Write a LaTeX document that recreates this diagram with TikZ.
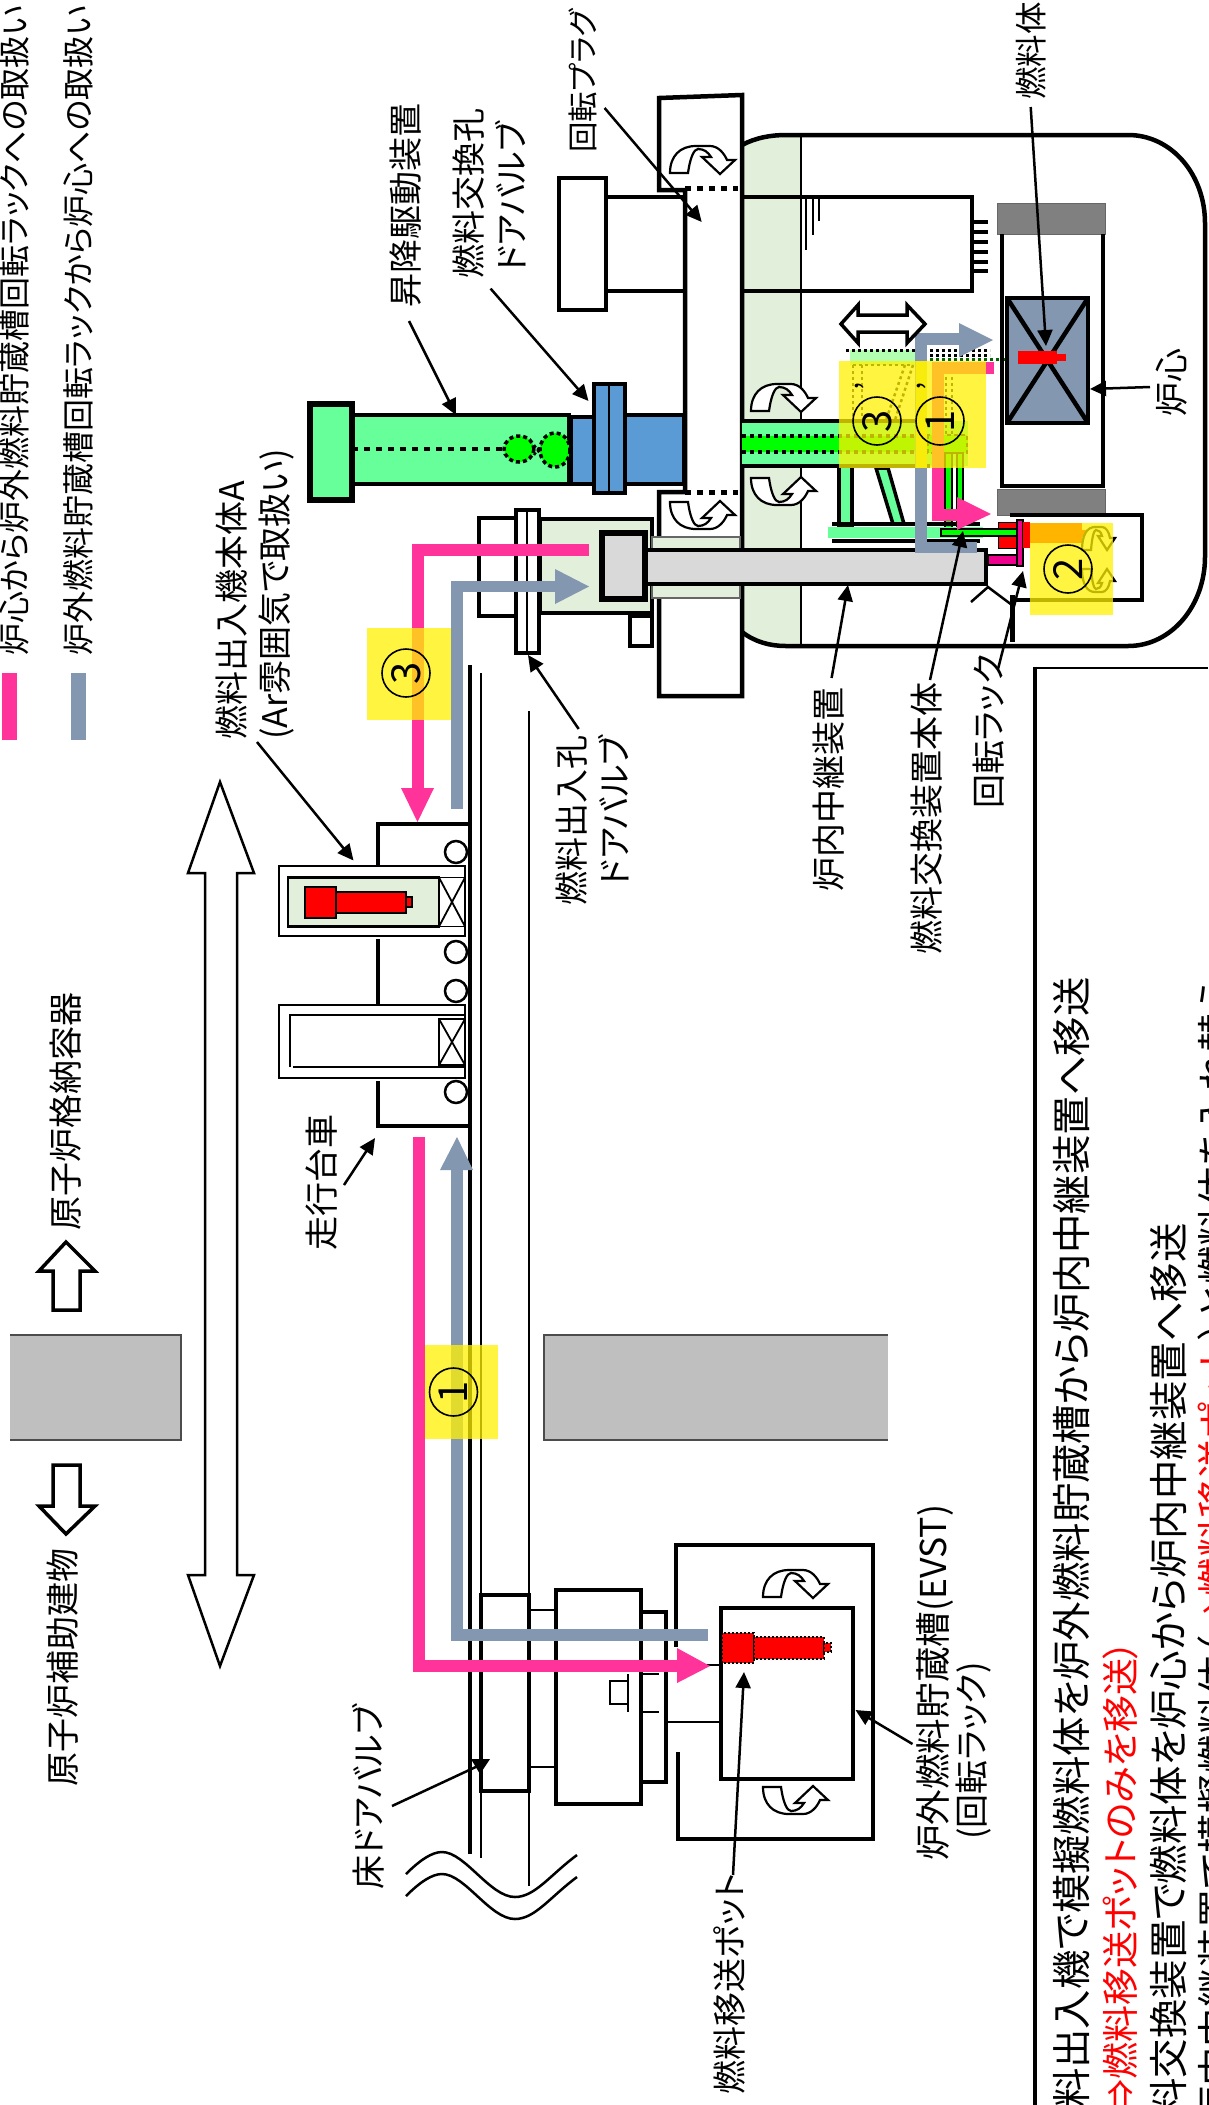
\documentclass[tikz,border=0pt]{standalone}
\usepackage{fontspec}
\setmainfont[RawFeature=+palt]{Noto Sans CJK JP}
\usetikzlibrary{arrows.meta}
\definecolor{pinkc}{HTML}{FF3399}
\definecolor{bluec}{HTML}{8497B0}
\definecolor{lgreen}{HTML}{E2EFDA}
\definecolor{mint}{HTML}{66FF99}
\definecolor{bright}{HTML}{00FF00}
\definecolor{steel}{HTML}{5B9BD5}
\definecolor{gA}{HTML}{808080}
\definecolor{gB}{HTML}{D9D9D9}
\definecolor{gC}{HTML}{BFBFBF}
\tikzset{
  ln/.style={draw=black,line width=4.5,line join=miter},
  mid/.style={draw=black,line width=2.5},
  thn/.style={draw=black,line width=1.8},
  pinkline/.style={draw=pinkc,line width=12},
  blueline/.style={draw=bluec,line width=11.5},
  yel/.style={fill=yellow,fill opacity=.75,draw=none},
  dots/.style={line width=3.5,dash pattern=on 4 off 4},
  lbl/.style={rotate=90,anchor=west,inner sep=0,font=\fontsize{34}{40}\selectfont},
  lble/.style={rotate=90,anchor=east,inner sep=0,font=\fontsize{34}{40}\selectfont},
  big/.style={rotate=90,anchor=east,inner sep=0,font=\fontsize{39.4}{46}\selectfont},
  num/.style={circle,draw=black,line width=1.6,minimum size=48,inner sep=0,rotate=90,font=\fontsize{40}{42}\selectfont},
  lead/.style={draw=black,line width=2.5,-{Triangle[length=16,width=15]}},
  turnarrow/.pic={
    \draw[draw=black,line width=2.2,fill=white,line join=miter]
      (0,27) .. controls (0,10) and (10,0) .. (26,0) -- (40,0)
      .. controls (48,0) and (54,7) .. (57,14) -- (65,14) -- (50,28) -- (32,11) -- (41,11)
      .. controls (38,6) and (34,3) .. (28,3) .. controls (24,3) and (20,12) .. (18,27) -- cycle;
  },
  smallrack/.pic={
    \draw[draw=black,line width=2.2,fill=white,line join=miter]
      (0,23) .. controls (0,8) and (5,0) .. (13,0) -- (20,0)
      .. controls (24,0) and (27,5) .. (28,11) -- (33,11) -- (25,23) -- (16,9) -- (20,9)
      .. controls (19,5) and (17,3) .. (14,3) .. controls (12,3) and (10,10) .. (9,23) -- cycle;
  },
}
\begin{document}
\begin{tikzpicture}[x=1pt,y=-1pt]
\useasboundingbox (0,0) rectangle (1208,2105);
\clip (0,0) rectangle (1208,2105);
\fill[white] (0,0) rectangle (1208,2105);
%% reactor vessel
\fill[lgreen] (742,145) .. controls (755,138) and (770,135) .. (786,135) -- (801,135) -- (801,646) -- (786,646) .. controls (770,646) and (755,642) .. (742,632) -- cycle;
\draw[ln] (742,145) .. controls (755,138) and (770,135) .. (786,135) -- (1128,135) .. controls (1172,135) and (1205,175) .. (1205,223) -- (1205,557) .. controls (1205,605) and (1172,646) .. (1128,646) -- (786,646) .. controls (770,646) and (755,642) .. (742,632);
\draw[draw=black,line width=1.6] (801,135) -- (801,646);
%% rotating plug
\fill[white] (659,98) -- (742,95) -- (742,696) -- (659,696) -- (659,492) -- (685,492) -- (685,190) -- (659,190) -- cycle;
\draw[ln] (685,190) -- (659,190) -- (659,98) -- (742,95) -- (742,696) -- (659,696) -- (659,492) -- (685,492) -- (685,190);
\draw[line width=5,dash pattern=on 6 off 6] (685,188) -- (738,188);
\draw[line width=5,dash pattern=on 6 off 6] (685,492) -- (738,492);
\pic at (670,146) {turnarrow};
\pic[yscale=-1] at (670,529) {turnarrow};
%% upper structure
\draw[ln] (559,178) rectangle (606,310);
\draw[ln] (606,197) -- (685,197);
\draw[ln] (606,291) -- (685,291);
\draw[ln] (742,197) -- (972,197) -- (972,291) -- (742,291);
\draw[mid] (806,197) -- (806,250);
\draw[mid] (813,197) -- (813,235);
\draw[mid] (819,197) -- (819,221);
\foreach \yy in {222,232,242,252,262,271} \draw[draw=black,line width=3.5] (972,\yy) -- (988,\yy);
%% lifting drive
\draw[ln,fill=mint] (352,415) rectangle (569,484);
\draw[draw=black,line width=5.5,fill=mint] (310,404) rectangle (352,500);
\draw[line width=4.5,dash pattern=on 6 off 6] (352,449) -- (505,449);
\draw[fill=bright,line width=3.5,dash pattern=on 4 off 3] (519,449) ellipse (15 and 13);
\draw[fill=bright,line width=3.5,dash pattern=on 4 off 3] (555,450) ellipse (15 and 17);
\draw[line width=2.5,dash pattern=on 3 off 3] (534,445) -- (541,455);
\draw[line width=2.5,dash pattern=on 3 off 3] (534,455) -- (541,445);
\draw[ln,fill=steel] (571,417) rectangle (594,484);
\draw[ln,fill=steel] (594,384) rectangle (625,493);
\draw[mid] (609,384) -- (609,493);
\draw[ln,fill=steel] (625,415) rectangle (684,484);
%% fuel handling machine, column
\fill[mint] (742,421) rectangle (968,466);
\draw[ln] (742,421) -- (930,421);
\draw[ln] (742,466) -- (930,466);
\fill[bright] (742,436) rectangle (968,452);
\draw[dots] (742,436) -- (928,436);
\draw[dots] (742,452) -- (928,452);
\draw[line width=2.5,dash pattern=on 4 off 3,fill=bright] (928,435) rectangle (967,453);
\pic at (751,384) {turnarrow};
\pic[yscale=-1] at (751,505) {turnarrow};
%% ghost arm
\fill[green!30] (850,350) rectangle (915,365);
\draw[line width=3,dash pattern=on 3 off 3] (846,350) -- (990,350);
\draw[line width=3,dash pattern=on 3 off 3] (930,355) -- (990,355);
\draw[draw=black!60!green,line width=3,dash pattern=on 3 off 3] (930,359) -- (1012,359);
\draw[line width=2.5,dash pattern=on 3 off 3] (853,365) -- (853,420);
\draw[line width=2.5,dash pattern=on 3 off 3] (862,365) -- (862,420);
\draw[line width=2.5,dash pattern=on 3 off 3] (913,365) -- (895,420);
\draw[line width=2.5,dash pattern=on 3 off 3] (905,365) -- (886,420);
\draw[line width=2.5,dash pattern=on 3 off 3] (853,365) -- (913,365);
\draw[line width=2.5,dash pattern=on 3 off 3] (933,365) -- (965,365);
\draw[line width=2.5,dash pattern=on 3 off 3] (946,365) -- (946,435);
\draw[line width=2.5,dash pattern=on 3 off 3] (952,365) -- (952,435);
%% legs
\draw[draw=black,line width=3.5,fill=mint] (839,466) rectangle (852,525);
\draw[draw=black,line width=3.5,fill=mint] (876,468) -- (888,468) -- (904,524) -- (893,524) -- cycle;
\draw[draw=black,line width=2.5,fill=bright] (945,453) rectangle (952,529);
\draw[draw=black,line width=2.5,fill=bright] (957,453) rectangle (963,529);
\fill[mint] (828,527) rectangle (983,538);
\draw[ln] (832,524) -- (980,524);
\draw[ln] (832,541) -- (980,541);
\fill[mint] (828,527) rectangle (983,538);
%% in-vessel relay and sleeves
\draw[draw=black,line width=3.5,fill=lgreen] (540,519) rectangle (652,613);
\draw[draw=black!60,line width=1.2,fill=lgreen] (652,537) rectangle (740,598);
\draw[ln,fill=white] (479,518) rectangle (518,616);
\draw[ln,fill=white] (516,510) rectangle (539,653);
\draw[mid] (527,510) -- (527,653);
\draw[ln,fill=white] (630,616) rectangle (652,646);
\draw[ln,fill=gB] (645,550) rectangle (986,584);
\draw[draw=black,line width=5.5,fill=gB] (602,533) rectangle (645,599);
%% gripper
\draw[draw=black,line width=2.5,fill=bright] (941,529) rectangle (1017,536);
\fill[red] (998,522) rectangle (1017,548);
\draw[draw=black,line width=1] (998,522) rectangle (1017,548);
\draw[draw=black,line width=2.5,fill=bright] (941,529) rectangle (1017,536);
\draw[draw=black,line width=2.5,fill=magenta] (988,555) rectangle (1017,565);
\draw[draw=black,line width=2.5,fill=magenta] (1017,520) rectangle (1023,566);
%% core
\draw[draw=gA!80!black,line width=1,fill=gA] (997,203) rectangle (1105,234);
\draw[draw=gA!80!black,line width=1,fill=gA] (997,489) rectangle (1105,515);
\draw[ln] (1002,234) -- (1002,486) -- (1103,486) -- (1103,234);
\draw[ln,fill=bluec] (1007,298) rectangle (1088,423);
\draw[ln] (1007,298) -- (1088,423);
\draw[ln] (1088,298) -- (1007,423);
\fill[red] (1018,351) rectangle (1057,364);
\fill[red] (1057,354) rectangle (1066,361);
%% rotating rack box
\draw[draw=black,line width=3.5] (1010,515) -- (1142,515) -- (1142,600) -- (1012,600);
\draw[ln,line width=5] (1012,595) -- (1012,642);
\draw[draw=black,line width=2.5] (971,602) -- (988,587) -- (1012,605);
\fill[red] (1023,522) rectangle (1030,548);
\fill[red] (1030,523) rectangle (1082,543);
\fill[red] (1082,530) rectangle (1088,537);
\pic at (1082,527) {smallrack};
\pic[yscale=-1] at (1082,592) {smallrack};
%% rails
\draw[draw=black,line width=3.5] (470,665) -- (470,1854);
\draw[draw=black,line width=2.5] (481,673) -- (481,1858);
\draw[draw=black,line width=2.5] (529,711) -- (529,1886);
%% trolley
\draw[ln] (378,865) -- (378,824) -- (470,824);
\draw[ln] (378,939) -- (378,1004);
\draw[ln] (378,1081) -- (378,1126) -- (470,1126);
\foreach \yy in {852,952,991,1092} \draw[mid,fill=white] (456,\yy) circle (11);
%% cask A
\draw[thn,fill=white] (279,866) rectangle (465,936);
\draw[mid,fill=lgreen] (288,877.5) rectangle (439,926.5);
\draw[thn,fill=white] (439,877.5) rectangle (465,926.5);
\draw[thn] (439,877.5) -- (465,926.5);
\draw[thn] (465,877.5) -- (439,926.5);
\draw[thn,fill=red] (305,887) rectangle (336,918);
\draw[thn,fill=red] (336,892) rectangle (406,913);
\draw[thn,fill=red] (406,897) rectangle (412,907);
%% cask B
\draw[thn,fill=white] (279,1005) rectangle (465,1078);
\draw[mid] (290,1067) -- (290,1015) -- (465,1015);
\draw[mid] (293,1067) -- (465,1067);
\draw[thn,fill=white] (439,1019) rectangle (465,1065);
\draw[thn] (439,1019) -- (465,1065);
\draw[thn] (465,1019) -- (439,1065);
%% large double arrow
\draw[mid,fill=white] (205,1575) -- (188,1575) -- (220,1666) -- (254,1575) -- (237,1575) -- (237,873) -- (254,873) -- (220,782) -- (188,873) -- (205,873) -- cycle;
%% walls
\fill[gC] (10,1335) rectangle (181,1440);
\draw[draw=black!70,line width=1.2] (10,1335) -- (181,1335) -- (181,1440) -- (10,1440);
\fill[gC] (544,1335) rectangle (888,1440);
\draw[draw=black!70,line width=1.2] (888,1335) -- (544,1335) -- (544,1440) -- (888,1440);
%% direction arrows
\draw[ln,line width=3.5] (53,1310) -- (53,1271) -- (39,1271) -- (66,1242) -- (95,1271) -- (80,1271) -- (80,1310) -- cycle;
\draw[ln,line width=3.5] (53,1465) -- (53,1506) -- (39,1506) -- (66,1534) -- (95,1506) -- (80,1506) -- (80,1465) -- cycle;
%% floor valve and machine
\draw[ln] (481,1595) rectangle (529,1791);
\draw[mid] (529,1610) -- (556,1610);
\draw[mid] (529,1767) -- (556,1767);
\draw[ln] (556,1590) rectangle (641,1804);
\draw[ln] (641,1612) -- (666,1612) -- (666,1782) -- (641,1782);
\draw[thn] (628,1681) -- (610,1681) -- (610,1704) -- (628,1704);
\draw[thn] (628,1674) -- (628,1712);
\draw[thn] (639,1674) -- (659,1674);
\draw[thn] (639,1712) -- (659,1712);
%% wavy break
\draw[mid] (406,1874) .. controls (420,1860) and (432,1852) .. (442,1852) .. controls (465,1852) and (490,1897) .. (515,1897) .. controls (535,1897) and (550,1875) .. (577,1855);
\draw[mid] (406,1896) .. controls (420,1882) and (432,1874) .. (442,1874) .. controls (465,1874) and (490,1919) .. (515,1919) .. controls (535,1919) and (550,1897) .. (577,1877);
%% EVST
\draw[ln] (676,1647) -- (676,1545) -- (873,1545) -- (873,1839) -- (678,1839) -- (678,1752);
\draw[ln] (721,1608) rectangle (853,1779);
\draw[mid] (667,1722) -- (721,1722);
\draw[mid] (705,1665) -- (721,1665);
\draw[draw=black,line width=1.3,dash pattern=on 2 off 2,fill=red] (722,1633) rectangle (754,1663);
\draw[draw=black,line width=1.3,dash pattern=on 2 off 2,fill=red] (754,1637) rectangle (824,1659);
\draw[draw=black,line width=1.3,dash pattern=on 2 off 2,fill=red] (824,1643) rectangle (831,1652);
\pic at (763,1570) {turnarrow};
\pic[yscale=-1] at (763,1814) {turnarrow};
%% transfer routes
\draw[pinkline] (589,550) -- (417.5,550) -- (417.5,790);
\fill[pinkc] (401,788) -- (434,788) -- (417.5,822) -- cycle;
\draw[pinkline] (419,1137) -- (419,1666) -- (678,1666);
\fill[pinkc] (677,1648) -- (710,1666) -- (677,1683) -- cycle;
\draw[blueline] (457,809) -- (457,586.5) -- (556,586.5);
\fill[bluec] (555,569) -- (589,586.5) -- (555,604) -- cycle;
\draw[blueline] (708,1635) -- (457,1635) -- (457,1168);
\fill[bluec] (440,1170) -- (457,1137) -- (473,1170) -- cycle;
\draw[pinkline] (994,368) -- (938,368) -- (938,515) -- (958,515);
\fill[pinkc] (957,497) -- (991,514) -- (957,530) -- cycle;
\draw[blueline] (977,547.5) -- (921,547.5) -- (921,339) -- (960,339);
\fill[bluec] (959,323) -- (993,340) -- (959,357) -- cycle;
%% bidirectional arrow
\draw[ln,line width=3.5,fill=white] (841,324) -- (858,305) -- (858,315) -- (907,315) -- (907,305) -- (925,324) -- (907,343) -- (907,332) -- (858,332) -- (858,343) -- cycle;
%% yellow highlights
\fill[yel] (839,361) rectangle (927,468);
\fill[yel] (916,361) rectangle (986,468);
\fill[yel] (1030,523) rectangle (1113,615);
\fill[yel] (367,628) rectangle (451,720);
\fill[yel] (425,1345) rectangle (498,1439);
\node[num] (n3a) at (877,421) {3};
\node[num] (n1a) at (940,421) {1};
\node[num] (n2) at (1068,569) {2};
\node[num] (n3b) at (406,673) {3};
\node[num] (n1b) at (453.5,1392) {1};
\node[rotate=90,inner sep=0,font=\fontsize{30}{32}\selectfont] (p3) at (867,386) {’};
\node[rotate=90,inner sep=0,font=\fontsize{30}{32}\selectfont] (p1) at (929,386) {’};
%% legend
\fill[pinkc] (2,673) rectangle (17,740);
\fill[bluec] (71,673) rectangle (86,740);
\node[lbl,font=\fontsize{32}{38}\selectfont] (leg1) at (14,656) {炉心から炉外燃料貯蔵槽回転ラックへの取扱い};
\node[lbl,font=\fontsize{32}{38}\selectfont] (leg2) at (78,656) {炉外燃料貯蔵槽回転ラックから炉心への取扱い};
%% labels
\node[lbl] (t1) at (406,308) {昇降駆動装置};
\node[lbl] (t2) at (469,279) {燃料交換孔};
\node[lbl] (t3) at (511,273) {ドアバルブ};
\node[lbl,font=\fontsize{30.5}{36}\selectfont] (t4) at (583,153) {回転プラグ};
\node[lbl,font=\fontsize{32.5}{38}\selectfont] (t5) at (1031,100) {燃料体};
\node[lbl] (t6) at (1172,417) {炉心};
\node[lbl] (t7) at (829,892) {炉内中継装置};
\node[lbl] (t8) at (927,955) {燃料交換装置本体};
\node[lbl] (t9) at (989,809) {回転ラック};
\node[lbl] (t10) at (232,740) {燃料出入機本体A};
\node[lbl] (t11) at (277,740) {(Ar雰囲気で取扱い)};
\node[lble] (t12) at (572,735) {燃料出入孔};
\node[lble] (t13) at (614,735) {ドアバルブ};
\node[lbl] (t14) at (322,1251) {走行台車};
\node[lbl] (t15) at (66,1231) {原子炉格納容器};
\node[lbl] (t16) at (63,1787) {原子炉補助建物};
\node[lbl] (t17) at (368,1890) {床ドアバルブ};
\node[lbl] (t18) at (729,2095) {燃料移送ポット};
\node[lbl,font=\fontsize{35.6}{42}\selectfont] (t19) at (935,1861) {炉外燃料貯蔵槽(EVST)};
\node[lbl] (t20) at (974,1840) {(回転ラック)};
%% leaders
\coordinate (a1) at (604.6,108); \coordinate (a2) at (701.7,222);
\coordinate (b1) at (409,321); \coordinate (b2) at (456,415);
\coordinate (c1) at (490.6,288.6); \coordinate (c2) at (588.5,401);
\coordinate (d1) at (1030.7,107); \coordinate (d2) at (1046,346);
\coordinate (e1) at (1150,387); \coordinate (e2) at (1090,389);
\coordinate (f1) at (831.6,678); \coordinate (f2) at (848,585);
\coordinate (g1) at (930,680); \coordinate (g2) at (963,531);
\coordinate (h1) at (998,669); \coordinate (h2) at (1023,571);
\coordinate (i1) at (257,742); \coordinate (i2) at (353.5,860.5);
\coordinate (j1) at (578.7,729); \coordinate (j2) at (528,655);
\coordinate (k1) at (344,1185); \coordinate (k2) at (375,1138);
\coordinate (l1) at (392,1806); \coordinate (l2) at (480,1765);
\coordinate (m1) at (733,1875); \coordinate (m2) at (744,1672);
\coordinate (n1) at (912.5,1744); \coordinate (n2) at (855.5,1710);
\draw[lead] (a1) -- (a2);
\draw[lead] (b1) -- (b2);
\draw[lead] (c1) -- (c2);
\draw[lead] (d1) -- (d2);
\draw[lead] (e1) -- (e2);
\draw[lead] (f1) -- (f2);
\draw[lead] (g1) -- (g2);
\draw[lead] (h1) -- (h2);
\draw[lead] (i1) -- (i2);
\draw[lead] (j1) -- (j2);
\draw[lead] (k1) -- (k2);
\draw[draw=black,line width=2.5] (l1) -- (l2);
\fill[black] (471,1759) -- (490,1759) -- (480,1774) -- cycle;
\draw[lead] (m1) -- (m2);
\draw[lead] (n1) -- (n2);
%% note box
\draw[draw=black,line width=2.5] (1035,668) -- (1208,668);
\draw[draw=black,line width=4.5] (1035,666.5) -- (1035,2105);
\node[big] (l1t) at (1071,977) {燃料出入機で模擬燃料体を炉外燃料貯蔵槽から炉内中継装置へ移送};
\node[big,text=red,font=\fontsize{37}{44}\selectfont] (l2t) at (1120,1640) {（⇒燃料移送ポットのみを移送）};
\node[big] (l3t) at (1168,1223) {燃料交換装置で燃料体を炉心から炉内中継装置へ移送};
\node[big] (l4t) at (1217,977) {炉内中継装置で模擬燃料体（\textcolor{red}{⇒燃料移送ポット}）と燃料体を入れ替え};
\end{tikzpicture}
\end{document}
